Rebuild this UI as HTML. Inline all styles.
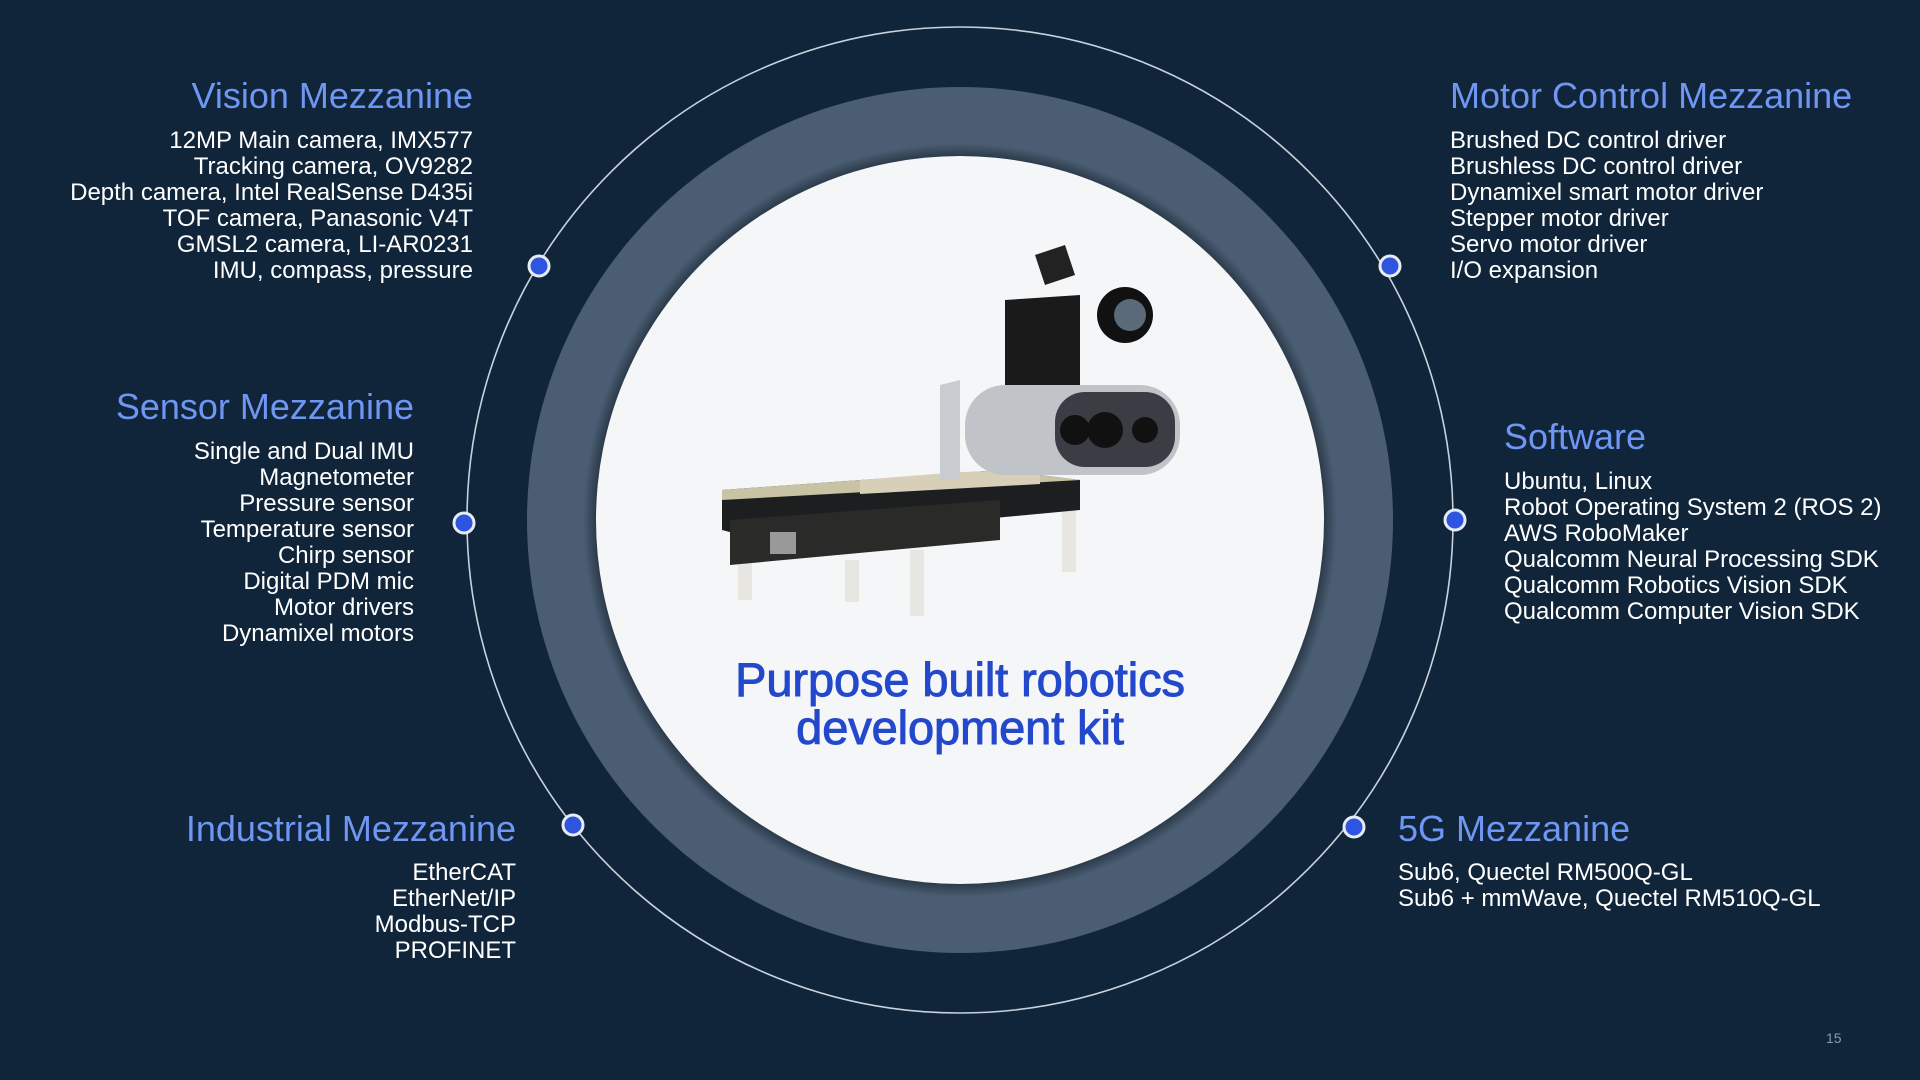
<!DOCTYPE html>
<html><head><meta charset="utf-8"><style>
html,body{margin:0;padding:0}
body{width:1920px;height:1080px;background:#10253a;position:relative;overflow:hidden;font-family:"Liberation Sans",sans-serif}
.h{position:absolute;color:#6f96f2;font-size:36px;line-height:40px;white-space:nowrap}
.b{position:absolute;color:#fff;font-size:24px;line-height:26px;white-space:nowrap}
.r{text-align:right}
</style></head><body>
<svg width="1920" height="1080" style="position:absolute;left:0;top:0">
<defs>
<radialGradient id="sh" cx="960" cy="520" r="433" gradientUnits="userSpaceOnUse">
<stop offset="0.84" stop-color="#2b3a4a"/><stop offset="0.87" stop-color="#4a5d72"/><stop offset="1" stop-color="#4a5d72"/>
</radialGradient>
</defs>
<circle cx="960" cy="520" r="493" fill="none" stroke="#c9d2dc" stroke-width="1.6"/>
<circle cx="960" cy="520" r="433" fill="url(#sh)"/>
<circle cx="960" cy="520" r="364" fill="#f5f6f8"/>
<g fill="#2d55e0" stroke="#e8ecf2" stroke-width="3">
<circle cx="539" cy="266" r="10"/><circle cx="464" cy="523" r="10"/><circle cx="573" cy="825" r="10"/>
<circle cx="1390" cy="266" r="10"/><circle cx="1455" cy="520" r="10"/><circle cx="1354" cy="827" r="10"/>
</g>
<g>
<rect x="738" y="560" width="14" height="40" fill="#e8e6e0"/><rect x="845" y="560" width="14" height="42" fill="#e8e6e0"/>
<rect x="910" y="550" width="14" height="66" fill="#e8e6e0"/><rect x="1062" y="480" width="14" height="92" fill="#e8e6e0"/>
<polygon points="722,490 1000,470 1080,480 1080,510 760,540 722,530" fill="#1c1e20"/>
<polygon points="730,520 1000,500 1000,540 730,565" fill="#2a2a28"/>
<polygon points="722,490 1000,470 1080,480 722,500" fill="#c9c3a6"/>
<rect x="770" y="532" width="26" height="22" fill="#999"/>
<polygon points="860,480 960,472 1040,470 1040,484 860,494" fill="#d8cfb8"/>
<polygon points="940,385 960,380 960,480 940,480" fill="#c8ccd0"/>
<polygon points="1005,300 1080,295 1080,385 1005,390" fill="#1a1a1a"/>
<rect x="965" y="385" width="215" height="90" rx="40" fill="#c0c4c8"/>
<rect x="1055" y="392" width="120" height="75" rx="30" fill="#3a3e44"/>
<circle cx="1075" cy="430" r="15" fill="#111"/><circle cx="1105" cy="430" r="18" fill="#111"/><circle cx="1145" cy="430" r="13" fill="#111"/>
<circle cx="1125" cy="315" r="28" fill="#111"/><circle cx="1130" cy="315" r="16" fill="#5a6a78"/>
<polygon points="1035,255 1065,245 1075,275 1045,285" fill="#222"/>
</g>
</svg>
<div class="h r" style="right:1447px;top:76px">Vision Mezzanine</div>
<div class="b r" style="right:1447px;top:128px">12MP Main camera, IMX577<br>Tracking camera, OV9282<br>Depth camera, Intel RealSense D435i<br>TOF camera, Panasonic V4T<br>GMSL2 camera, LI-AR0231<br>IMU, compass, pressure</div>
<div class="h r" style="right:1506px;top:387px">Sensor Mezzanine</div>
<div class="b r" style="right:1506px;top:439px">Single and Dual IMU<br>Magnetometer<br>Pressure sensor<br>Temperature sensor<br>Chirp sensor<br>Digital PDM mic<br>Motor drivers<br>Dynamixel motors</div>
<div class="h r" style="right:1404px;top:809px">Industrial Mezzanine</div>
<div class="b r" style="right:1404px;top:860px">EtherCAT<br>EtherNet/IP<br>Modbus-TCP<br>PROFINET</div>
<div class="h" style="left:1450px;top:76px">Motor Control Mezzanine</div>
<div class="b" style="left:1450px;top:128px">Brushed DC control driver<br>Brushless DC control driver<br>Dynamixel smart motor driver<br>Stepper motor driver<br>Servo motor driver<br>I/O expansion</div>
<div class="h" style="left:1504px;top:417px">Software</div>
<div class="b" style="left:1504px;top:469px">Ubuntu, Linux<br>Robot Operating System 2 (ROS 2)<br>AWS RoboMaker<br>Qualcomm Neural Processing SDK<br>Qualcomm Robotics Vision SDK<br>Qualcomm Computer Vision SDK</div>
<div class="h" style="left:1398px;top:809px">5G Mezzanine</div>
<div class="b" style="left:1398px;top:860px">Sub6, Quectel RM500Q-GL<br>Sub6 + mmWave, Quectel RM510Q-GL</div>
<div style="position:absolute;left:620px;width:680px;top:656px;text-align:center;color:#2448cc;font-size:47px;line-height:48px;letter-spacing:-0.1px;-webkit-text-stroke:1px #2448cc">Purpose built robotics<br>development kit</div>
<div style="position:absolute;left:1826px;top:1030px;color:#8a9aae;font-size:14px">15</div>
</body></html>
